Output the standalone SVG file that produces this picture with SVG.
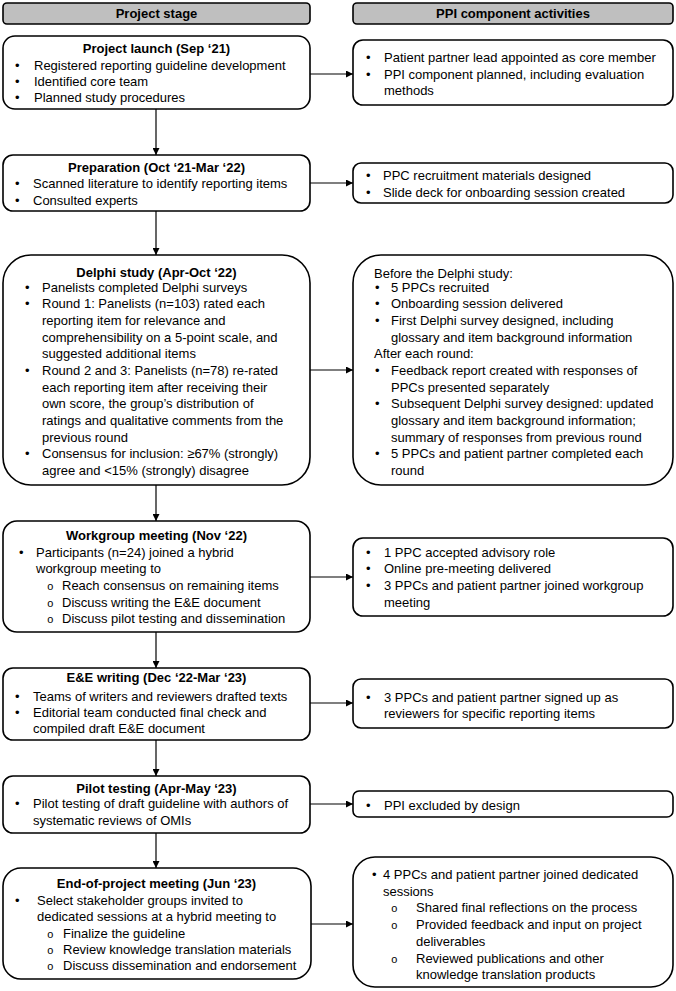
<svg xmlns="http://www.w3.org/2000/svg" width="676" height="991" viewBox="0 0 676 991">
<style>
.bg{fill:#fff}
.box{fill:#fff;stroke:#000;stroke-width:1.6}
.hdr{fill:#bfbfbf;stroke:#000;stroke-width:1.6}
text{font-family:"Liberation Sans",Arial,sans-serif;font-size:13px;fill:#000}
.b{font-weight:bold}
.c{text-anchor:middle}
.o{font-family:"Liberation Mono","Courier New",monospace;font-size:11px}
.con{stroke:#000;stroke-width:1.2;fill:none}
</style>
<defs>
<marker id="ah" viewBox="0 0 10 10" refX="10" refY="5" markerWidth="7" markerHeight="7" markerUnits="userSpaceOnUse" orient="auto">
<path d="M0,0 L10,5 L0,10 z" fill="#000"/>
</marker>
</defs>
<rect class="bg" x="0" y="0" width="676" height="991"/>

<g id="hdr-left">
<rect class="hdr" x="3" y="3" width="307" height="21" rx="4"/>
<text class="b c" x="156.5" y="18">Project stage</text>
</g>
<g id="hdr-right">
<rect class="hdr" x="353" y="3" width="320" height="21" rx="4"/>
<text class="b c" x="513" y="18">PPI component activities</text>
</g>

<g id="launch">
<rect class="box" x="3" y="36" width="307" height="73" rx="12"/>
<text class="b c" x="156.5" y="52.5">Project launch (Sep ‘21)</text>
<text x="15" y="69.5">•</text><text x="34" y="69.5">Registered reporting guideline development</text>
<text x="15" y="85.5">•</text><text x="34" y="85.5">Identified core team</text>
<text x="15" y="101.5">•</text><text x="34" y="101.5">Planned study procedures</text>
</g>
<g id="ppi-launch">
<rect class="box" x="353" y="40" width="320" height="65" rx="10"/>
<text x="366" y="61.5">•</text><text x="384" y="61.5">Patient partner lead appointed as core member</text>
<text x="366" y="78.5">•</text><text x="384" y="78.5">PPI component planned, including evaluation</text>
<text x="384" y="94.5">methods</text>
</g>

<g id="prep">
<rect class="box" x="3" y="155" width="307" height="56" rx="10"/>
<text class="b c" x="156.5" y="171.5">Preparation (Oct ‘21-Mar ‘22)</text>
<text x="15" y="188">•</text><text x="33" y="188">Scanned literature to identify reporting items</text>
<text x="15" y="205">•</text><text x="33" y="205">Consulted experts</text>
</g>
<g id="ppi-prep">
<rect class="box" x="353" y="163" width="320" height="40" rx="8"/>
<text x="366" y="179.5">•</text><text x="383" y="179.5">PPC recruitment materials designed</text>
<text x="366" y="196.5">•</text><text x="383" y="196.5">Slide deck for onboarding session created</text>
</g>

<g id="delphi">
<rect class="box" x="3" y="255" width="307" height="230" rx="28"/>
<text class="b c" x="156.5" y="276.5">Delphi study (Apr-Oct ‘22)</text>
<text x="25" y="291.5">•</text><text x="42" y="291.5">Panelists completed Delphi surveys</text>
<text x="25" y="308">•</text><text x="42" y="308">Round 1: Panelists (n=103) rated each</text>
<text x="42" y="325">reporting item for relevance and</text>
<text x="42" y="341.5">comprehensibility on a 5-point scale, and</text>
<text x="42" y="358">suggested additional items</text>
<text x="25" y="375">•</text><text x="42" y="375">Round 2 and 3: Panelists (n=78) re-rated</text>
<text x="42" y="391.5">each reporting item after receiving their</text>
<text x="42" y="408">own score, the group’s distribution of</text>
<text x="42" y="425">ratings and qualitative comments from the</text>
<text x="42" y="441.5">previous round</text>
<text x="25" y="458">•</text><text x="42" y="458">Consensus for inclusion: ≥67% (strongly)</text>
<text x="42" y="475">agree and &lt;15% (strongly) disagree</text>
</g>
<g id="ppi-delphi">
<rect class="box" x="353" y="255" width="320" height="230" rx="28"/>
<text x="374" y="277.5">Before the Delphi study:</text>
<text x="375" y="291.5">•</text><text x="391" y="291.5">5 PPCs recruited</text>
<text x="375" y="308">•</text><text x="391" y="308">Onboarding session delivered</text>
<text x="375" y="325">•</text><text x="391" y="325">First Delphi survey designed, including</text>
<text x="391" y="341.5">glossary and item background information</text>
<text x="374" y="358">After each round:</text>
<text x="375" y="375">•</text><text x="391" y="375">Feedback report created with responses of</text>
<text x="391" y="391.5">PPCs presented separately</text>
<text x="375" y="408">•</text><text x="391" y="408">Subsequent Delphi survey designed: updated</text>
<text x="391" y="425">glossary and item background information;</text>
<text x="391" y="441.5">summary of responses from previous round</text>
<text x="375" y="458">•</text><text x="391" y="458">5 PPCs and patient partner completed each</text>
<text x="391" y="475">round</text>
</g>

<g id="workgroup">
<rect class="box" x="3" y="521" width="307" height="111" rx="14"/>
<text class="b c" x="156.5" y="539.5">Workgroup meeting (Nov ‘22)</text>
<text x="19" y="556.5">•</text><text x="36" y="556.5">Participants (n=24) joined a hybrid</text>
<text x="36" y="573">workgroup meeting to</text>
<text class="o" x="47" y="590">o</text><text x="62" y="590">Reach consensus on remaining items</text>
<text class="o" x="47" y="606.5">o</text><text x="62" y="606.5">Discuss writing the E&amp;E document</text>
<text class="o" x="47" y="623">o</text><text x="62" y="623">Discuss pilot testing and dissemination</text>
</g>
<g id="ppi-workgroup">
<rect class="box" x="353" y="538" width="320" height="78" rx="10"/>
<text x="366" y="556.5">•</text><text x="384" y="556.5">1 PPC accepted advisory role</text>
<text x="366" y="573">•</text><text x="384" y="573">Online pre-meeting delivered</text>
<text x="366" y="590">•</text><text x="384" y="590">3 PPCs and patient partner joined workgroup</text>
<text x="384" y="606.5">meeting</text>
</g>

<g id="ee">
<rect class="box" x="3" y="668" width="307" height="72" rx="10"/>
<text class="b c" x="156.5" y="681.5">E&amp;E writing (Dec ‘22-Mar ‘23)</text>
<text x="15" y="701">•</text><text x="33" y="701">Teams of writers and reviewers drafted texts</text>
<text x="15" y="717">•</text><text x="33" y="717">Editorial team conducted final check and</text>
<text x="33" y="733">compiled draft E&amp;E document</text>
</g>
<g id="ppi-ee">
<rect class="box" x="353" y="679" width="320" height="49" rx="8"/>
<text x="366" y="701.5">•</text><text x="384" y="701.5">3 PPCs and patient partner signed up as</text>
<text x="384" y="717.5">reviewers for specific reporting items</text>
</g>

<g id="pilot">
<rect class="box" x="3" y="776" width="307" height="57" rx="10"/>
<text class="b c" x="156.5" y="792.5">Pilot testing (Apr-May ‘23)</text>
<text x="15" y="808">•</text><text x="33" y="808">Pilot testing of draft guideline with authors of</text>
<text x="33" y="825">systematic reviews of OMIs</text>
</g>
<g id="ppi-pilot">
<rect class="box" x="353" y="791" width="320" height="26" rx="6"/>
<text x="366" y="809.5">•</text><text x="384" y="809.5">PPI excluded by design</text>
</g>

<g id="end">
<rect class="box" x="3" y="868" width="308" height="111" rx="18"/>
<text class="b c" x="156.5" y="887.5">End-of-project meeting (Jun ‘23)</text>
<text x="15" y="904.5">•</text><text x="37" y="904.5">Select stakeholder groups invited to</text>
<text x="37" y="920.5">dedicated sessions at a hybrid meeting to</text>
<text class="o" x="47" y="937.5">o</text><text x="63" y="937.5">Finalize the guideline</text>
<text class="o" x="47" y="953.5">o</text><text x="63" y="953.5">Review knowledge translation materials</text>
<text class="o" x="47" y="969.5">o</text><text x="63" y="969.5">Discuss dissemination and endorsement</text>
</g>
<g id="ppi-end">
<rect class="box" x="353" y="857" width="320" height="130" rx="22"/>
<text x="372" y="878.5">•</text><text x="383" y="878.5">4 PPCs and patient partner joined dedicated</text>
<text x="383" y="895.5">sessions</text>
<text class="o" x="391" y="911.5">o</text><text x="416" y="911.5">Shared final reflections on the process</text>
<text class="o" x="391" y="928.5">o</text><text x="416" y="928.5">Provided feedback and input on project</text>
<text x="416" y="945.5">deliverables</text>
<text class="o" x="391" y="962.5">o</text><text x="416" y="962.5">Reviewed publications and other</text>
<text x="416" y="978.5">knowledge translation products</text>
</g>

<g id="connectors">
<line class="con" x1="156" y1="109" x2="156" y2="155" marker-end="url(#ah)"/>
<line class="con" x1="156" y1="211" x2="156" y2="255" marker-end="url(#ah)"/>
<line class="con" x1="156" y1="485" x2="156" y2="521" marker-end="url(#ah)"/>
<line class="con" x1="156" y1="632" x2="156" y2="668" marker-end="url(#ah)"/>
<line class="con" x1="156" y1="740" x2="156" y2="776" marker-end="url(#ah)"/>
<line class="con" x1="156" y1="833" x2="156" y2="868" marker-end="url(#ah)"/>
<line class="con" x1="310" y1="74" x2="353" y2="74" marker-end="url(#ah)"/>
<line class="con" x1="310" y1="183" x2="353" y2="183" marker-end="url(#ah)"/>
<line class="con" x1="310" y1="370" x2="353" y2="370" marker-end="url(#ah)"/>
<line class="con" x1="310" y1="577" x2="353" y2="577" marker-end="url(#ah)"/>
<line class="con" x1="310" y1="703" x2="353" y2="703" marker-end="url(#ah)"/>
<line class="con" x1="310" y1="804" x2="353" y2="804" marker-end="url(#ah)"/>
<line class="con" x1="311" y1="924" x2="353" y2="924" marker-end="url(#ah)"/>
</g>
</svg>
